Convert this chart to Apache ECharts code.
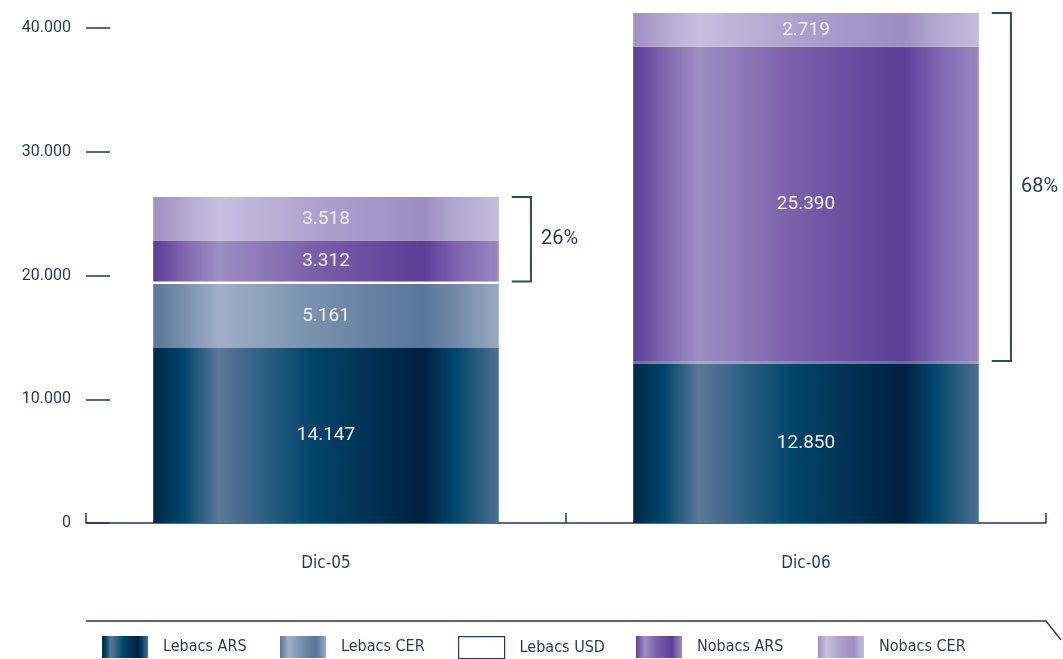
<!DOCTYPE html>
<html>
<head>
<meta charset="utf-8">
<script src="https://cdn.jsdelivr.net/npm/echarts@6/dist/echarts.min.js"></script>
<style>
  html, body { margin: 0; padding: 0; background: #ffffff; }
  #chart { width: 1063px; height: 659px; }
</style>
</head>
<body>
<div id="chart"></div>
<script>
// Stock of Lebacs / Nobacs by instrument (millions), December 2005 vs December 2006
const categories = ['Dic-05', 'Dic-06'];
const lebacsARS = [14147, 12850];
const lebacsCER = [5161, 250];
const lebacsUSD = [200, 0];
const nobacsARS = [3312, 25390];
const nobacsCER = [3518, 2719];
const yTicks = [0, 10000, 20000, 30000, 40000];

const INK = '#1f3a5a';
const NARROW = "'Liberation Sans Narrow', 'DejaVu Sans Condensed', sans-serif";

// metallic horizontal sheen for each instrument
function sheen(c0, c1, c2, c3, c4, c5, c6) {
  return new echarts.graphic.LinearGradient(0, 0, 1, 0, [
    { offset: 0, color: c0 },
    { offset: 0.09, color: c1 },
    { offset: 0.19, color: c2 },
    { offset: 0.46, color: c3 },
    { offset: 0.78, color: c4 },
    { offset: 0.87, color: c5 },
    { offset: 1, color: c6 }
  ]);
}
const fills = {
  lebacsARS: sheen('#00284a', '#00466a', '#5a7898', '#00456a', '#00203f', '#00456a', '#4d6f90'),
  lebacsCER: sheen('#5a7898', '#7890ad', '#a0b0c8', '#7891ae', '#56769a', '#6f88a8', '#98aac2'),
  lebacsUSD: '#ffffff',
  nobacsARS: sheen('#5c3d96', '#7f66ad', '#9d8ec2', '#7a60aa', '#5c3d96', '#7a62ae', '#9a88c0'),
  nobacsCER: sheen('#9f8fc4', '#b2a7d2', '#c6c0e0', '#aea2cf', '#9d8dc3', '#b0a6d2', '#c4bcdc')
};

const thousands = v => String(v).replace(/\B(?=(\d{3})+(?!\d))/g, '.');

const lebacsTotal = categories.map((_, i) => lebacsARS[i] + lebacsCER[i] + lebacsUSD[i]);
const grandTotal = categories.map((_, i) => lebacsTotal[i] + nobacsARS[i] + nobacsCER[i]);
const nobacsShare = categories.map((_, i) => Math.round((grandTotal[i] - lebacsTotal[i]) / grandTotal[i] * 100) + '%');

function stackSeries(name, data, color) {
  return {
    name, type: 'bar', stack: 'total', data,
    barWidth: '72%',
    itemStyle: { color },
    label: {
      show: true, position: 'inside',
      formatter: p => (p.value >= 1000 ? thousands(p.value) : ''),
      color: '#f2f0f8', fontFamily: 'Roboto', fontSize: 19
    },
    emphasis: { disabled: true }
  };
}

const legendLefts = [102, 280, 458, 636, 818];
const legendNames = ['Lebacs ARS', 'Lebacs CER', 'Lebacs USD', 'Nobacs ARS', 'Nobacs CER'];

const chart = echarts.init(document.getElementById('chart'));
chart.setOption({
  animation: false,
  grid: { left: 86, right: 17, top: 3.25, bottom: 136 },
  legend: legendNames.map((n, i) => ({
    left: legendLefts[i], top: 636,
    itemWidth: 46, itemHeight: 22, padding: 0,
    icon: 'rect',
    selectedMode: false,
    data: [n === 'Lebacs USD'
      ? { name: n, itemStyle: { borderColor: INK, borderWidth: 1.2 } }
      : { name: n }],
    textStyle: { color: INK, fontFamily: NARROW, fontSize: 16, padding: [0, 0, 0, 10] }
  })),
  xAxis: {
    type: 'category', data: categories,
    axisLine: { lineStyle: { color: INK, width: 1.5 } },
    axisTick: { show: true, inside: true, length: 10, lineStyle: { color: INK, width: 1.5 } },
    axisLabel: { color: INK, fontFamily: NARROW, fontSize: 17, margin: 32 }
  },
  yAxis: {
    type: 'value', min: 0, max: 42000,
    axisLine: { show: false },
    splitLine: { show: false },
    axisTick: { show: true, inside: true, length: 24, customValues: yTicks, lineStyle: { color: INK, width: 1.5 } },
    axisLabel: { customValues: yTicks, formatter: v => thousands(v), color: INK, fontFamily: 'Roboto', fontSize: 16, margin: 15 }
  },
  graphic: [{
    type: 'polyline', silent: true,
    shape: { points: [[86, 621], [1046, 621], [1061, 640]] },
    style: { stroke: INK, lineWidth: 1.3, fill: null }
  }],
  series: [
    stackSeries('Lebacs ARS', lebacsARS, fills.lebacsARS),
    stackSeries('Lebacs CER', lebacsCER, fills.lebacsCER),
    stackSeries('Lebacs USD', lebacsUSD, fills.lebacsUSD),
    stackSeries('Nobacs ARS', nobacsARS, fills.nobacsARS),
    stackSeries('Nobacs CER', nobacsCER, fills.nobacsCER),
    {
      // bracket marking the Nobacs part of each stack, with its share of the total
      type: 'custom', silent: true, z: 5,
      data: categories.map((_, i) => [i, lebacsTotal[i], grandTotal[i]]),
      encode: { x: 0, y: [1, 2] },
      renderItem: (params, api) => {
        const i = api.value(0);
        const lo = api.coord([i, api.value(1)]);
        const hi = api.coord([i, api.value(2)]);
        const band = api.size([1, 0])[0];
        const x1 = lo[0] + band * 0.387;
        const x2 = lo[0] + band * 0.427;
        return {
          type: 'group',
          children: [
            { type: 'polyline', shape: { points: [[x1, hi[1]], [x2, hi[1]], [x2, lo[1]], [x1, lo[1]]] },
              style: { stroke: '#2b4a6d', lineWidth: 2, fill: null } },
            { type: 'text', style: { text: nobacsShare[params.dataIndex], x: x2 + 10, y: (lo[1] + hi[1]) / 2,
              verticalAlign: 'middle', fill: INK, font: '20px Roboto' } }
          ]
        };
      }
    }
  ]
});
</script>
</body>
</html>
